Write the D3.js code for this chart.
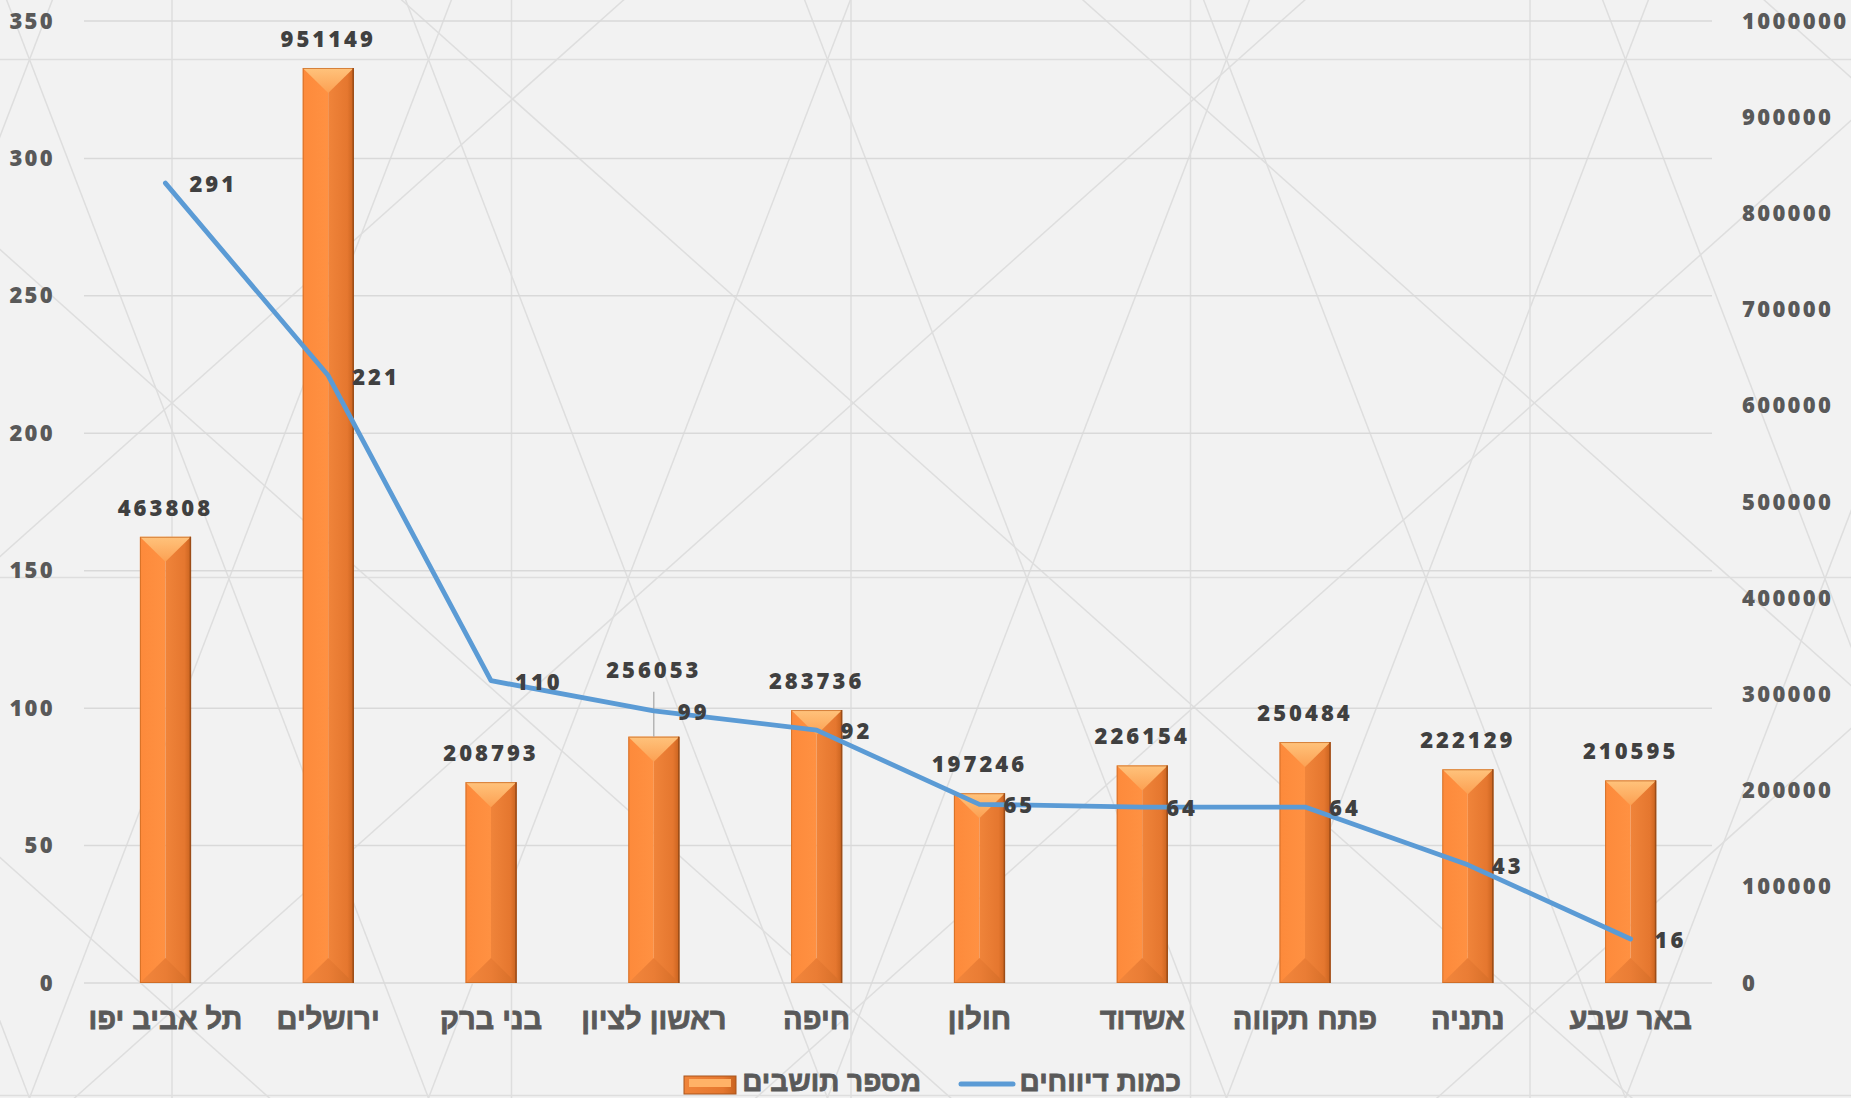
<!DOCTYPE html>
<html>
<head>
<meta charset="utf-8">
<script src="https://cdn.jsdelivr.net/npm/d3@7"></script>
<style>
  html, body { margin: 0; padding: 0; background: #f2f2f2; }
  svg { display: block; }
</style>
</head>
<body>
<div id="chart"></div>
<script>
// data
var cities = ["תל אביב יפו", "ירושלים", "בני ברק", "ראשון לציון", "חיפה", "חולון", "אשדוד", "פתח תקווה", "נתניה", "באר שבע"];
var residents = [463808, 951149, 208793, 256053, 283736, 197246, 226154, 250484, 222129, 210595];
var reports = [291, 221, 110, 99, 92, 65, 64, 64, 43, 16];
var leftTicks = [0, 50, 100, 150, 200, 250, 300, 350];
var rightTicks = [0, 100000, 200000, 300000, 400000, 500000, 600000, 700000, 800000, 900000, 1000000];
var barName = "מספר תושבים";
var lineName = "כמות דיווחים";

var W = 1851, H = 1098;
var margin = {top: 21, right: 139, bottom: 115, left: 84};
var width = W - margin.left - margin.right,
    height = H - margin.top - margin.bottom;

var numFont = "'Open Sans', 'DejaVu Sans', sans-serif";
var hebFont = "'Liberation Sans', Arial, sans-serif";

var svg = d3.select("#chart")
  .append("svg")
  .attr("width", W)
  .attr("height", H);

svg.append("rect").attr("width", W).attr("height", H).attr("fill", "#f2f2f2");

// background texture: lattice of thin grey lines
var tex = svg.append("g").attr("stroke", "#dedede").attr("stroke-width", 1.5).attr("fill", "none");
var segs = [];
d3.range(-1, 4).forEach(function(k) { var y = 59.5 + 518 * k; segs.push([[0, y], [W, y]]); });
d3.range(-1, 6).forEach(function(k) { var x = 172 + 339.5 * k; segs.push([[x, 0], [x, H]]); });
var mA = 303 / 339.5;
d3.range(-4, 6).forEach(function(k) {
  var b = 403 + 608 * k;
  segs.push([[-100, mA * (-100 - 172) + b], [W + 100, mA * (W + 100 - 172) + b]]);
  segs.push([[-100, -mA * (-100 - 172) + b], [W + 100, -mA * (W + 100 - 172) + b]]);
});
var mB = 518 / 199;
d3.range(-3, 7).forEach(function(k) {
  var x0 = 29.5 + 399 * k;
  segs.push([[x0 - 200, 59.5 - mB * 200], [x0 + 600, 59.5 + mB * 600]]);
  segs.push([[x0 + 200, 59.5 - mB * 200], [x0 - 600, 59.5 + mB * 600]]);
});
tex.selectAll("line").data(segs).enter().append("line")
  .attr("x1", function(d) { return d[0][0]; })
  .attr("y1", function(d) { return d[0][1]; })
  .attr("x2", function(d) { return d[1][0]; })
  .attr("y2", function(d) { return d[1][1]; });

// gradients for the bevelled bars
var defs = svg.append("defs");
function grad(id, x2, y2, stops) {
  var g = defs.append("linearGradient").attr("id", id)
    .attr("x1", 0).attr("y1", 0).attr("x2", x2).attr("y2", y2);
  stops.forEach(function(s) { g.append("stop").attr("offset", s[0]).attr("stop-color", s[1]); });
}
grad("gLeft", 1, 0, [[0, "#fd8a3b"], [1, "#ff9142"]]);
grad("gRight", 1, 0, [[0, "#f0843a"], [0.75, "#e5772f"], [1, "#c9631f"]]);
grad("gTop", 0, 1, [[0, "#ffc37c"], [1, "#fca052"]]);
grad("gBot", 1, 0, [[0, "#f2863c"], [0.5, "#ea7d35"], [1, "#d56d27"]]);

var g = svg.append("g")
  .attr("transform", "translate(" + margin.left + "," + margin.top + ")");

var x = d3.scaleBand().domain(cities).range([0, width]).padding(0);
var yL = d3.scaleLinear().domain([0, 350]).range([height, 0]);
var yR = d3.scaleLinear().domain([0, 1000000]).range([height, 0]);

// gridlines from left axis
g.append("g").selectAll("line").data(leftTicks).enter().append("line")
  .attr("x1", 0).attr("x2", width)
  .attr("y1", function(d) { return yL(d); }).attr("y2", function(d) { return yL(d); })
  .attr("stroke", "#d9d9d9").attr("stroke-width", 1.5);

function numStyle(sel) {
  sel.attr("font-family", numFont).attr("font-weight", 800).attr("font-size", "22px")
    .attr("letter-spacing", "2.3px");
}

// left axis
var axL = g.append("g").call(d3.axisLeft(yL).tickValues(leftTicks).tickSize(0).tickPadding(29));
axL.select(".domain").remove();
axL.selectAll("text").call(numStyle).attr("fill", "#595959");

// right axis
var axR = g.append("g").attr("transform", "translate(" + width + ",0)")
  .call(d3.axisRight(yR).tickValues(rightTicks).tickSize(0).tickPadding(30).tickFormat(d3.format("d")));
axR.select(".domain").remove();
axR.selectAll("text").call(numStyle).attr("fill", "#595959");

// x axis labels
var axB = g.append("g").attr("transform", "translate(0," + height + ")")
  .call(d3.axisBottom(x).tickSize(0).tickPadding(0));
axB.select(".domain").remove();
axB.selectAll("text")
  .attr("dy", null).attr("y", 46)
  .attr("font-family", hebFont).attr("font-weight", 700).attr("font-size", "29px")
  .attr("fill", "#595959").attr("stroke", "#595959").attr("stroke-width", 0.8);

// bars
var bw = 51;
var bars = g.append("g").selectAll("g").data(residents).enter().append("g");
bars.each(function(v, i) {
  var sel = d3.select(this);
  var cx = x(cities[i]) + x.bandwidth() / 2;
  var x0 = cx - bw / 2, x1 = cx + bw / 2;
  var top = yR(v), bot = yR(0);
  var d = Math.min(25, (bot - top) / 2);
  sel.append("rect").attr("x", x0).attr("y", top).attr("width", bw / 2).attr("height", bot - top).attr("fill", "url(#gLeft)");
  sel.append("rect").attr("x", cx).attr("y", top).attr("width", bw / 2).attr("height", bot - top).attr("fill", "url(#gRight)");
  sel.append("path").attr("d", "M" + x0 + "," + bot + "L" + x1 + "," + bot + "L" + cx + "," + (bot - d) + "Z").attr("fill", "url(#gBot)");
  sel.append("path").attr("d", "M" + x0 + "," + top + "L" + x1 + "," + top + "L" + cx + "," + (top + d) + "Z").attr("fill", "url(#gTop)");
  sel.append("rect").attr("x", x0 + 0.5).attr("y", top + 0.5).attr("width", bw - 1).attr("height", bot - top - 1)
    .attr("fill", "none").attr("stroke", "#c4651f").attr("stroke-opacity", 0.7).attr("stroke-width", 1);
  sel.append("line").attr("x1", x1 - 0.5).attr("x2", x1 - 0.5).attr("y1", top).attr("y2", bot)
    .attr("stroke", "#9c4d18").attr("stroke-width", 1.5);
});

// bar value labels (Rishon label was pulled up with a leader line)
var lifted = {3: 38};
residents.forEach(function(v, i) {
  var cx = x(cities[i]) + x.bandwidth() / 2;
  var lift = lifted[i] || 0;
  if (lift) {
    g.append("line").attr("x1", cx).attr("x2", cx)
      .attr("y1", yR(v) - 21 - lift + 14).attr("y2", yR(v))
      .attr("stroke", "#a6a6a6").attr("stroke-width", 1.2);
  }
  g.append("text")
    .attr("x", cx).attr("y", yR(v) - 21 - lift)
    .attr("text-anchor", "middle")
    .call(numStyle).attr("letter-spacing", "3px").attr("fill", "#404040")
    .text(v);
});

// line series
var line = d3.line()
  .x(function(d, i) { return x(cities[i]) + x.bandwidth() / 2; })
  .y(function(d) { return yL(d); });
g.append("path").datum(reports)
  .attr("d", line)
  .attr("fill", "none").attr("stroke", "#5b9bd5").attr("stroke-width", 4.8)
  .attr("stroke-linecap", "round").attr("stroke-linejoin", "round");

g.append("g").selectAll("text").data(reports).enter().append("text")
  .attr("x", function(d, i) { return x(cities[i]) + x.bandwidth() / 2 + 24; })
  .attr("y", function(d) { return yL(d) + 9; })
  .call(numStyle).attr("letter-spacing", "3px").attr("fill", "#404040")
  .text(function(d) { return d; });

// legend
var lg = svg.append("g");
lg.append("rect").attr("x", 684).attr("y", 1076).attr("width", 52).attr("height", 18).attr("fill", "url(#gRight)")
  .attr("stroke", "#a8541c").attr("stroke-width", 1);
lg.append("rect").attr("x", 689).attr("y", 1079).attr("width", 42).attr("height", 8).attr("fill", "#ffb267");
lg.append("text").attr("x", 921).attr("y", 1091).attr("text-anchor", "end")
  .attr("font-family", hebFont).attr("font-weight", 700).attr("font-size", "28px")
  .attr("fill", "#595959").attr("stroke", "#595959").attr("stroke-width", 0.8)
  .text(barName);
lg.append("line").attr("x1", 961).attr("x2", 1013).attr("y1", 1084).attr("y2", 1084)
  .attr("stroke", "#5b9bd5").attr("stroke-width", 5).attr("stroke-linecap", "round");
lg.append("text").attr("x", 1181).attr("y", 1091).attr("text-anchor", "end")
  .attr("font-family", hebFont).attr("font-weight", 700).attr("font-size", "28px")
  .attr("fill", "#595959").attr("stroke", "#595959").attr("stroke-width", 0.8)
  .text(lineName);
</script>
</body>
</html>
